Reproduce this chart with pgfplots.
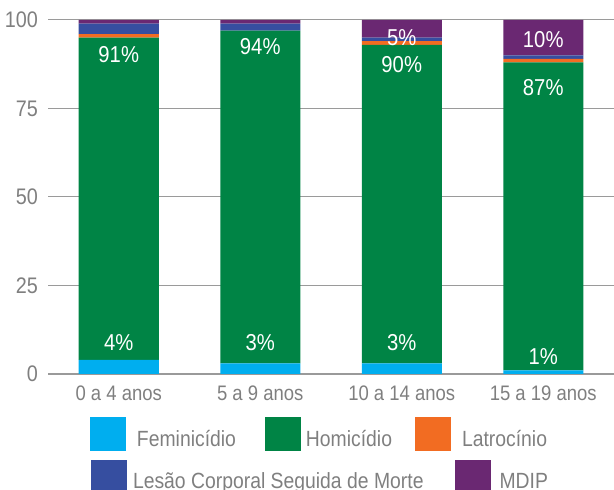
\documentclass[border=0pt]{standalone}
\usepackage{fontspec}
\setmainfont{Liberation Sans}[FakeStretch=0.88]
\usepackage{pgfplots}
\pgfplotsset{compat=1.18}
\definecolor{femc}{HTML}{00AEEF}
\definecolor{homc}{HTML}{008445}
\definecolor{latc}{HTML}{F26C22}
\definecolor{lcsmc}{HTML}{364EA0}
\definecolor{mdipc}{HTML}{6A2872}
\definecolor{txtc}{HTML}{7F7F7F}
\definecolor{gridc}{HTML}{9A9A9A}
\pgfplotsset{
  bigsq/.style={
    legend image code/.code={\fill[##1,draw=none] (0pt,-12pt) rectangle (36pt,22pt);},
  },
}
\tikzset{barlab/.style={text=white, font=\fontsize{23}{27}\selectfont, inner sep=0pt}}
\begin{document}
\begin{tikzpicture}
\begin{axis}[
  scale only axis, width=566pt, height=354pt,
  ybar stacked, bar width=80pt,
  xmin=-0.5, xmax=3.5, ymin=0, ymax=100, enlargelimits=false,
  xtick={0,1,2,3},
  xticklabels={0 a 4 anos, 5 a 9 anos, 10 a 14 anos, 15 a 19 anos},
  ytick={0,25,50,75,100},
  /pgf/number format/assume math mode=true,
  axis lines*=left,
  y axis line style={draw=none},
  x axis line style={draw=gridc, line width=1.3pt},
  major tick length=0pt,
  ymajorgrids, grid style={draw=gridc, line width=1pt},
  yticklabel style={font=\fontsize{22.5}{26}\selectfont, text=txtc, anchor=east, inner sep=0pt, xshift=-10pt},
  xticklabel style={font=\fontsize{21}{25}\selectfont, text=txtc, anchor=north, inner sep=0pt, yshift=-12pt},
  bigsq,
  legend columns=3,
  legend cell align=left,
  legend style={draw=none, fill=none, inner sep=0pt, outer sep=0pt,
    at={(rel axis cs:0,0)}, anchor=north west, xshift=42pt, yshift=-43.5pt,
    font=\fontsize{22}{26}\selectfont, text=txtc,
    nodes={inner sep=0pt},
    /tikz/column 1/.style={column sep=11pt},
    /tikz/column 2/.style={column sep=29pt},
    /tikz/column 3/.style={column sep=5pt},
    /tikz/column 4/.style={column sep=23pt},
    /tikz/column 5/.style={column sep=11pt}},
]
\addplot[fill=femc, draw=none] coordinates {(0,4) (1,3) (2,3) (3,1)};
\addlegendentry{Feminicídio}
\addplot[fill=homc, draw=none] coordinates {(0,91) (1,94) (2,90) (3,87)};
\addlegendentry{Homicídio}
\addplot[fill=latc, draw=none] coordinates {(0,1) (1,0) (2,1) (3,1)};
\addlegendentry{Latrocínio}
\addplot[fill=lcsmc, draw=none] coordinates {(0,3) (1,2) (2,1) (3,1)};
\addplot[fill=mdipc, draw=none] coordinates {(0,1) (1,1) (2,5) (3,10)};
\coordinate (f0) at (axis cs:0,9.0);
\coordinate (f1) at (axis cs:1,9.0);
\coordinate (f2) at (axis cs:2,9.0);
\coordinate (f3) at (axis cs:3,4.9);
\coordinate (h0) at (axis cs:0,90.3);
\coordinate (h1) at (axis cs:1,92.4);
\coordinate (h2) at (axis cs:2,87.5);
\coordinate (h3) at (axis cs:3,80.9);
\coordinate (m2) at (axis cs:2,94.9);
\coordinate (m3) at (axis cs:3,94.6);
\end{axis}
\node[barlab] at (f0) {4\%};
\node[barlab] at (f1) {3\%};
\node[barlab] at (f2) {3\%};
\node[barlab] at (f3) {1\%};
\node[barlab] at (h0) {91\%};
\node[barlab] at (h1) {94\%};
\node[barlab] at (h2) {90\%};
\node[barlab] at (h3) {87\%};
\node[barlab] at (m2) {5\%};
\node[barlab] at (m3) {10\%};
\begin{axis}[
  scale only axis, width=566pt, height=354pt,
  hide axis, xmin=0, xmax=1, ymin=0, ymax=1,
  bigsq,
  legend columns=2,
  legend cell align=left,
  legend style={draw=none, fill=none, inner sep=0pt, outer sep=0pt,
    at={(rel axis cs:0,0)}, anchor=north west, xshift=43pt, yshift=-85.5pt,
    font=\fontsize{22}{26}\selectfont, text=txtc,
    nodes={inner sep=0pt},
    /tikz/column 1/.style={column sep=6pt},
    /tikz/column 2/.style={column sep=31pt},
    /tikz/column 3/.style={column sep=9pt}},
]
\addlegendimage{fill=lcsmc, draw=none}
\addlegendentry{Lesão Corporal Seguida de Morte}
\addlegendimage{fill=mdipc, draw=none}
\addlegendentry{MDIP}
\end{axis}
\pgfresetboundingbox
\useasboundingbox (-48pt,-116pt) rectangle (566pt,374pt);
\end{tikzpicture}
\end{document}
